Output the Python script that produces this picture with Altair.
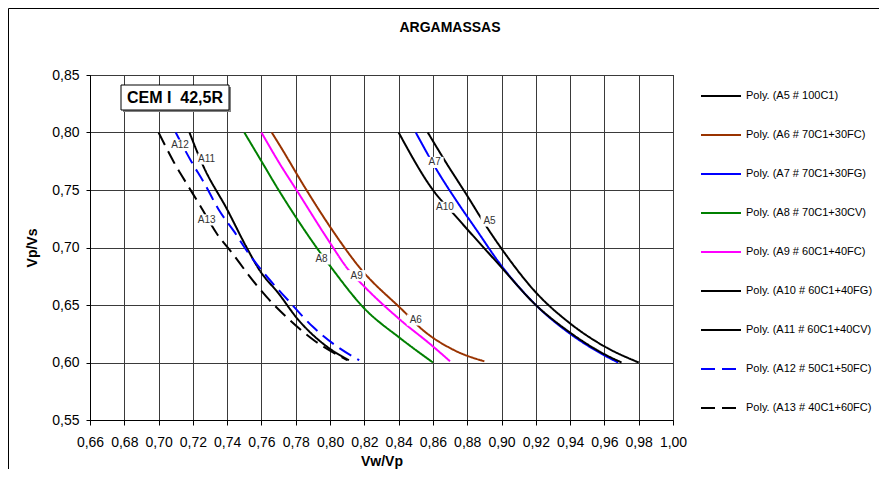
import altair as alt
import pandas as pd

FONT = "Liberation Sans"

# ---------------- data ----------------
series = [
    "Poly. (A5 # 100C1)",
    "Poly. (A6 # 70C1+30FC)",
    "Poly. (A7 # 70C1+30FG)",
    "Poly. (A8 # 70C1+30CV)",
    "Poly. (A9 # 60C1+40FC)",
    "Poly. (A10 # 60C1+40FG)",
    "Poly. (A11 # 60C1+40CV)",
    "Poly. (A12 # 50C1+50FC)",
    "Poly. (A13 # 40C1+60FC)",
]
short = ["A5", "A6", "A7", "A8", "A9", "A10", "A11", "A12", "A13"]
colors = ["#000000", "#993300", "#0000FF", "#008000", "#FF00FF",
          "#000000", "#000000", "#0000FF", "#000000"]
dashes = [[1, 0], [1, 0], [1, 0], [1, 0], [1, 0], [1, 0], [1, 0], [14, 7], [14, 7]]

a5_x = [0.857, 0.868, 0.880, 0.890, 0.900, 0.920, 0.940, 0.960, 0.980]
a5_y = [0.800, 0.773, 0.745, 0.721, 0.699, 0.661, 0.634, 0.614, 0.600]
a6_x = [0.766, 0.771, 0.785, 0.800, 0.817, 0.844, 0.852, 0.872, 0.890]
a6_y = [0.800, 0.788, 0.753, 0.718, 0.683, 0.643, 0.631, 0.611, 0.601]
a7_x = [0.850, 0.862, 0.874, 0.886, 0.898, 0.920, 0.940, 0.959, 0.968]
a7_y = [0.800, 0.768, 0.740, 0.714, 0.688, 0.650, 0.625, 0.607, 0.600]
a8_x = [0.750, 0.760, 0.770, 0.782, 0.795, 0.800, 0.820, 0.841, 0.860]
a8_y = [0.800, 0.775, 0.750, 0.722, 0.694, 0.684, 0.647, 0.621, 0.600]
a9_x = [0.760, 0.771, 0.780, 0.800, 0.810, 0.820, 0.841, 0.860, 0.870]
a9_y = [0.800, 0.772, 0.751, 0.704, 0.682, 0.666, 0.637, 0.614, 0.601]
a10_x = [0.840, 0.860, 0.874, 0.898, 0.920, 0.940, 0.959, 0.970]
a10_y = [0.800, 0.750, 0.726, 0.686, 0.650, 0.626, 0.608, 0.600]
a11_x = [0.718, 0.726, 0.740, 0.751, 0.759, 0.770, 0.781, 0.798, 0.811]
a11_y = [0.800, 0.771, 0.733, 0.701, 0.680, 0.660, 0.638, 0.614, 0.602]
a12_x = [0.710, 0.719, 0.727, 0.735, 0.744, 0.752, 0.763, 0.775, 0.790, 0.804, 0.817]
a12_y = [0.800, 0.775, 0.755, 0.733, 0.714, 0.696, 0.675, 0.655, 0.631, 0.614, 0.602]
a13_x = [0.700, 0.709, 0.717, 0.724, 0.734, 0.743, 0.752, 0.763, 0.775, 0.790, 0.810]
a13_y = [0.800, 0.774, 0.754, 0.737, 0.712, 0.695, 0.677, 0.657, 0.639, 0.620, 0.602]

curve_x = [a5_x, a6_x, a7_x, a8_x, a9_x, a10_x, a11_x, a12_x, a13_x]
curve_y = [a5_y, a6_y, a7_y, a8_y, a9_y, a10_y, a11_y, a12_y, a13_y]

label_text = ["A12", "A11", "A13", "A8", "A9", "A6", "A7", "A10", "A5"]
label_x = [0.7125, 0.728, 0.728, 0.795, 0.8155, 0.850, 0.861, 0.867, 0.893]
label_y = [0.789, 0.777, 0.724, 0.690, 0.6755, 0.637, 0.774, 0.735, 0.723]

x_ticks = [0.66, 0.68, 0.70, 0.72, 0.74, 0.76, 0.78, 0.80, 0.82,
           0.84, 0.86, 0.88, 0.90, 0.92, 0.94, 0.96, 0.98, 1.00]
y_ticks = [0.55, 0.60, 0.65, 0.70, 0.75, 0.80, 0.85]

title_text = "ARGAMASSAS"
box_text = "CEM I\u00a0 42,5R"
x_title = "Vw/Vp"
y_title = "Vp/Vs"

# ---------------- tables ----------------
rows = []
for name, xs, ys in zip(series, curve_x, curve_y):
    for i, (xv, yv) in enumerate(zip(xs, ys)):
        rows.append({"series": name, "x": xv, "y": yv, "i": i})
df = pd.DataFrame(rows)
lab = pd.DataFrame({"x": label_x, "y": label_y, "t": label_text})
one = pd.DataFrame({"k": [0]})

# ---------------- encodings ----------------
comma = "replace(format(datum.value, '.2f'), '.', ',')"
x_enc = alt.X("x:Q",
              scale=alt.Scale(domain=[0.66, 1.0], nice=False, zero=False),
              axis=alt.Axis(values=x_ticks, labelExpr=comma, title=x_title,
                            grid=True, tickSize=5, labelPadding=10,
                            labelOverlap=False, labelFlush=False,
                            titlePadding=5))
y_enc = alt.Y("y:Q",
              scale=alt.Scale(domain=[0.55, 0.85], nice=False, zero=False),
              axis=alt.Axis(values=y_ticks, labelExpr=comma, title=y_title,
                            grid=True, tickSize=4, labelPadding=7,
                            labelOverlap=False, labelFlush=False,
                            titlePadding=12))

lines = alt.Chart(df).mark_line(strokeWidth=2, interpolate="monotone").encode(
    x=x_enc, y=y_enc,
    color=alt.Color("series:N", scale=alt.Scale(domain=series, range=colors),
                    sort=series,
                    legend=alt.Legend(title=None)),
    strokeDash=alt.StrokeDash("series:N", scale=alt.Scale(domain=series, range=dashes),
                              sort=series, legend=alt.Legend(title=None)),
    order="i:Q",
)

label_bg = alt.Chart(lab).mark_point(
    shape="M-1,-0.62H1V0.62H-1Z", filled=True, color="white", opacity=1,
    size=324, strokeWidth=0
).encode(x=x_enc, y=y_enc)

labels = alt.Chart(lab).mark_text(
    font=FONT, fontSize=10, color="#333333", align="center", baseline="middle"
).encode(x=x_enc, y=y_enc, text="t:N")

box_shadow = alt.Chart(one).mark_rect(color="#808080").encode(
    x=alt.value(33), x2=alt.value(141), y=alt.value(12), y2=alt.value(37))
box = alt.Chart(one).mark_rect(fill="white", stroke="black", strokeWidth=1).encode(
    x=alt.value(31), x2=alt.value(139), y=alt.value(10), y2=alt.value(35))
box_label = alt.Chart(one).mark_text(
    font=FONT, fontSize=16, fontWeight="bold", color="black",
    align="center", baseline="middle"
).encode(x=alt.value(85), y=alt.value(23), text=alt.value(box_text))

title = alt.Chart(one).mark_text(
    font=FONT, fontSize=14, fontWeight="bold", color="black",
    align="center", baseline="middle"
).encode(x=alt.value(360), y=alt.value(-47), text=alt.value(title_text))

frame = alt.Chart(one).mark_rect(fill=None, stroke="black", strokeWidth=1).encode(
    x=alt.value(-81.5), x2=alt.value(820), y=alt.value(-66.5), y2=alt.value(420))

chart = alt.layer(
    frame, lines, label_bg, labels, box_shadow, box, box_label, title
).properties(
    width=583, height=345,
    autosize=alt.AutoSizeParams(type="none"),
    padding={"left": 82, "top": 67, "right": 206, "bottom": 49},
).configure_view(
    stroke="black", strokeWidth=1
).configure_axis(
    domainColor="black", tickColor="black", gridColor="#3a3a3a", gridWidth=1,
    labelFont=FONT, labelFontSize=14, labelColor="black",
    titleFont=FONT, titleFontSize=14, titleFontWeight="bold", titleColor="black",
).configure_legend(
    orient="none", legendX=610, legendY=0,
    symbolType="stroke", symbolSize=1600, symbolStrokeWidth=2,
    labelFont=FONT, labelFontSize=11, labelColor="black", labelLimit=400,
    rowPadding=13, padding=0, labelOffset=4,
)

chart.save("out.html", embed_options={"renderer": "svg", "actions": False})
